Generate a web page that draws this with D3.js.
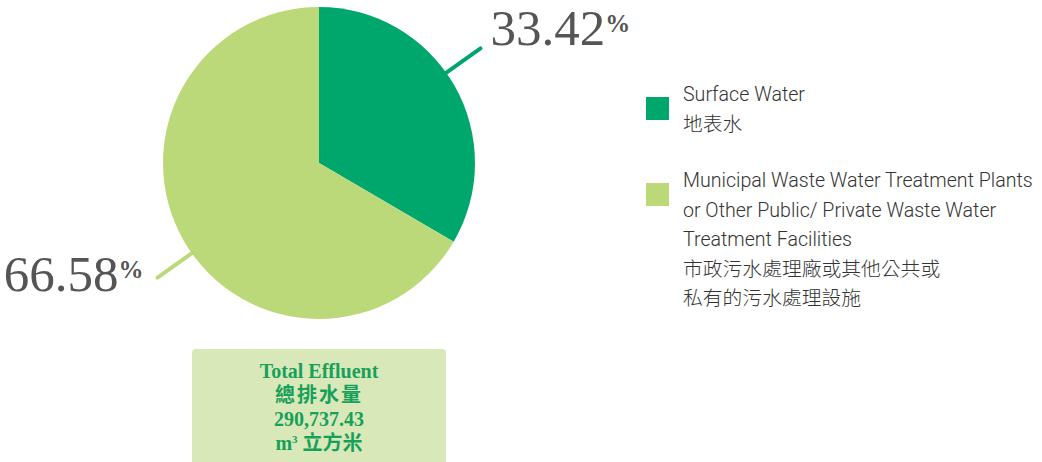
<!DOCTYPE html>
<html>
<head>
<meta charset="utf-8">
<script src="https://cdn.jsdelivr.net/npm/d3@7"></script>
<style>
  body { margin: 0; background: #fff; }
  svg { display: block; }
</style>
</head>
<body>
<div id="chart"></div>
<script>
// share of effluent by discharge destination
var categories = ["Surface Water", "Municipal Waste Water Treatment Plants or Other Public/ Private Waste Water Treatment Facilities"]
var legendEn = [["Surface Water"], ["Municipal Waste Water Treatment Plants", "or Other Public/ Private Waste Water", "Treatment Facilities"]]
var legendCn = [["地表水"], ["市政污水處理廠或其他公共或", "私有的污水處理設施"]]
var values = [33.42, 66.58]
var colors = ["#00a76d", "#bcd97a"]
var totalLines = ["Total Effluent", "總排水量", "290,737.43"]

var svgWidth = 1042
var svgHeight = 462

var svg = d3.select("#chart").append("svg")
    .attr("width", svgWidth)
    .attr("height", svgHeight)

// pie
var cx = 319, cy = 163, radius = 156
var pie = d3.pie().sort(null).value(d => d)
var arcs = pie(values)
var arc = d3.arc().innerRadius(0).outerRadius(radius)

var pieGroup = svg.append("g")
    .attr("transform", `translate(${cx}, ${cy})`)

pieGroup.selectAll(".slice")
    .data(arcs)
    .enter()
    .append("path")
    .classed("slice", true)
    .attr("d", arc)
    .attr("fill", (d, i) => colors[i])

// leader lines and percent labels
var leaderIn = d3.arc().innerRadius(radius - 2).outerRadius(radius - 2)
var leaderOut = d3.arc().innerRadius(198).outerRadius(198)
var offset = -5.5 * Math.PI / 180
function leaderPoint(a, d) {
    var ang = (d.startAngle + d.endAngle) / 2 + offset
    return a.centroid({startAngle: ang, endAngle: ang})
}

pieGroup.selectAll(".leader")
    .data(arcs)
    .enter()
    .append("line")
    .classed("leader", true)
    .attr("x1", d => leaderPoint(leaderIn, d)[0])
    .attr("y1", d => leaderPoint(leaderIn, d)[1])
    .attr("x2", d => leaderPoint(leaderOut, d)[0])
    .attr("y2", d => leaderPoint(leaderOut, d)[1])
    .attr("stroke", (d, i) => colors[i])
    .attr("stroke-width", 4)
    .attr("stroke-linecap", "round")

var pctText = pieGroup.selectAll(".pct")
    .data(arcs)
    .enter()
    .append("text")
    .classed("pct", true)
    .attr("x", d => {
        var p = leaderPoint(leaderOut, d)
        return p[0] > 0 ? p[0] + 10 : p[0] - 14
    })
    .attr("y", d => {
        var p = leaderPoint(leaderOut, d)
        return p[0] > 0 ? p[1] - 3 : p[1] + 13
    })
    .attr("text-anchor", d => leaderPoint(leaderOut, d)[0] > 0 ? "start" : "end")
    .attr("font-family", "'Liberation Serif', serif")
    .attr("fill", "#555")
pctText.append("tspan")
    .attr("font-size", 51)
    .text(d => d.data.toFixed(2))
pctText.append("tspan")
    .attr("font-size", 25)
    .attr("font-weight", "bold")
    .attr("dy", -13)
    .text("%")

// legend
var legend = svg.append("g").attr("transform", "translate(646, 0)")
var legendTop = [97, 183]
legendEn.forEach((lines, i) => {
    var g = legend.append("g").attr("transform", `translate(0, ${legendTop[i]})`)
    g.append("rect")
        .attr("width", 23)
        .attr("height", 23)
        .attr("fill", colors[i])
    var all = lines.concat(legendCn[i])
    all.forEach((t, j) => {
        g.append("text")
            .attr("x", 37)
            .attr("y", 4 + j * 29.5)
            .attr("font-family", "Roboto, 'Noto Sans CJK TC', sans-serif")
            .attr("font-weight", 300)
            .attr("font-size", j < lines.length ? 19.6 : 19.8)
            .attr("fill", "#333")
            .text(t)
    })
})

// total box
var box = svg.append("g").attr("transform", "translate(192, 349)")
box.append("rect")
    .attr("width", 254)
    .attr("height", 125)
    .attr("rx", 4)
    .attr("fill", "#d9e8b9")
totalLines.forEach((t, j) => {
    box.append("text")
        .attr("x", 127)
        .attr("y", 29 + j * 24)
        .attr("text-anchor", "middle")
        .attr("font-family", "'Liberation Serif', 'Noto Sans CJK TC', serif")
        .attr("font-weight", "bold")
        .attr("font-size", 20)
        .attr("fill", "#17a05a")
        .attr("letter-spacing", j == 1 ? 2 : 0)
        .text(t)
})
var unit = box.append("text")
    .attr("x", 127)
    .attr("y", 101)
    .attr("text-anchor", "middle")
    .attr("font-family", "'Liberation Serif', 'Noto Sans CJK TC', serif")
    .attr("font-weight", "bold")
    .attr("font-size", 20)
    .attr("fill", "#17a05a")
unit.append("tspan").text("m")
unit.append("tspan").attr("font-size", 11).attr("dy", -7).text("3")
unit.append("tspan").attr("dy", 7).text(" 立方米")
</script>
</body>
</html>
